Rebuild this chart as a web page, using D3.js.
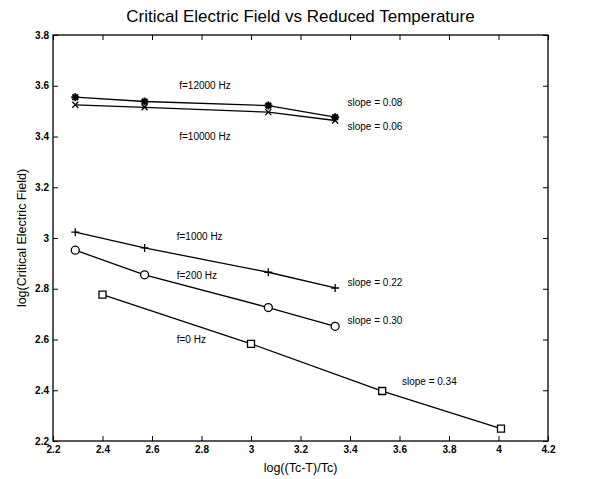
<!DOCTYPE html>
<html>
<head>
<meta charset="utf-8">
<script src="https://cdn.jsdelivr.net/npm/d3@7"></script>
<style>
  body { margin: 0; background: #fff; }
  svg { display: block; font-family: "Liberation Sans", Arial, sans-serif; }
  .tick text { font-size: 10px; font-weight: bold; fill: #000; }
  .note { font-size: 10px; fill: #000; }
</style>
</head>
<body>
<svg id="chart" width="592" height="479"></svg>
<script>
// values
const xFreq = [2.29, 2.57, 3.07, 3.34];      // shared x for f = 12000 / 10000 / 1000 / 200 Hz
const xZero = [2.40, 3.00, 3.53, 4.01];      // x for f = 0 Hz
const y12000 = [3.555, 3.538, 3.522, 3.476];
const y10000 = [3.525, 3.515, 3.496, 3.463];
const y1000 = [3.023, 2.961, 2.865, 2.803];
const y200 = [2.952, 2.855, 2.726, 2.652];
const y0 = [2.777, 2.583, 2.397, 2.249];

const xTicks = [2.2, 2.4, 2.6, 2.8, 3, 3.2, 3.4, 3.6, 3.8, 4, 4.2];
const yTicks = [2.2, 2.4, 2.6, 2.8, 3, 3.2, 3.4, 3.6, 3.8];

const series = [
  { name: 'f=12000 Hz', x: xFreq, y: y12000, marker: 'star' },
  { name: 'f=10000 Hz', x: xFreq, y: y10000, marker: 'x' },
  { name: 'f=1000 Hz',  x: xFreq, y: y1000,  marker: 'plus' },
  { name: 'f=200 Hz',   x: xFreq, y: y200,   marker: 'circle' },
  { name: 'f=0 Hz',     x: xZero, y: y0,     marker: 'square' }
];

// text annotations, anchored in data units
const notes = [
  { text: 'f=12000 Hz',   x: 2.71, y: 3.600 },
  { text: 'f=10000 Hz',   x: 2.71, y: 3.400 },
  { text: 'f=1000 Hz',    x: 2.70, y: 3.004 },
  { text: 'f=200 Hz',     x: 2.70, y: 2.852 },
  { text: 'f=0 Hz',       x: 2.70, y: 2.600 },
  { text: 'slope = 0.08', x: 3.39, y: 3.535 },
  { text: 'slope = 0.06', x: 3.39, y: 3.440 },
  { text: 'slope = 0.22', x: 3.39, y: 2.826 },
  { text: 'slope = 0.30', x: 3.39, y: 2.674 },
  { text: 'slope = 0.34', x: 3.61, y: 2.435 }
];

const svg = d3.select('#chart');
const margin = { top: 35, right: 44, bottom: 38, left: 53 };
const width  = +svg.attr('width');
const height = +svg.attr('height');
const innerW = width - margin.left - margin.right;
const innerH = height - margin.top - margin.bottom;

const x = d3.scaleLinear().domain([2.2, 4.2]).range([0, innerW]);
const y = d3.scaleLinear().domain([2.2, 3.8]).range([innerH, 0]);

const g = svg.append('g')
  .attr('transform', `translate(${margin.left},${margin.top})`);

const fmt = d => String(+d.toFixed(1));

// axes with inward ticks on all four sides
g.append('g')
  .attr('transform', `translate(0,${innerH})`)
  .call(d3.axisBottom(x).tickValues(xTicks).tickFormat(fmt).tickSizeInner(-5).tickSizeOuter(0).tickPadding(5));
g.append('g')
  .call(d3.axisTop(x).tickValues(xTicks).tickFormat('').tickSizeInner(-5).tickSizeOuter(0));
g.append('g')
  .call(d3.axisLeft(y).tickValues(yTicks).tickFormat(fmt).tickSizeInner(-5).tickSizeOuter(0).tickPadding(4));
g.append('g')
  .attr('transform', `translate(${innerW},0)`)
  .call(d3.axisRight(y).tickValues(yTicks).tickFormat('').tickSizeInner(-5).tickSizeOuter(0));

g.selectAll('.domain').remove();
g.selectAll('.tick line').attr('stroke', '#000').attr('stroke-width', 1);

g.append('rect')
  .attr('width', innerW)
  .attr('height', innerH)
  .attr('fill', 'none')
  .attr('stroke', '#000')
  .attr('stroke-width', 1.3);

// lines
const line = d3.line().x(d => x(d[0])).y(d => y(d[1]));
g.selectAll('.series')
  .data(series)
  .join('path')
    .attr('class', 'series')
    .attr('d', s => line(s.x.map((v, i) => [v, s.y[i]])))
    .attr('fill', 'none')
    .attr('stroke', '#000')
    .attr('stroke-width', 1.3);

// markers
const markerPath = (type) => {
  const r = 4;
  switch (type) {
    case 'plus': return `M${-r},0H${r}M0,${-r}V${r}`;
    case 'x': return `M${-r*0.75},${-r*0.75}L${r*0.75},${r*0.75}M${-r*0.75},${r*0.75}L${r*0.75},${-r*0.75}`;
    case 'star': return `M${-r},0H${r}M0,${-r}V${r}M${-r*0.7},${-r*0.7}L${r*0.7},${r*0.7}M${-r*0.7},${r*0.7}L${r*0.7},${-r*0.7}`;
    case 'circle': return d3.symbol(d3.symbolCircle, 50)();
    case 'square': return `M-3.5,-3.5H3.5V3.5H-3.5Z`;
  }
};

series.forEach(s => {
  g.selectAll(null)
    .data(s.x.map((v, i) => [v, s.y[i]]))
    .join('path')
      .attr('transform', d => `translate(${x(d[0])},${y(d[1])})`)
      .attr('d', markerPath(s.marker))
      .attr('fill', (s.marker === 'circle' || s.marker === 'square') ? '#fff' : 'none')
      .attr('stroke', '#000')
      .attr('stroke-width', s.marker === 'star' ? 2 : 1.3);
});

// annotations
g.selectAll('.note')
  .data(notes)
  .join('text')
    .attr('class', 'note')
    .attr('x', d => x(d.x))
    .attr('y', d => y(d.y))
    .attr('dy', '0.35em')
    .text(d => d.text);

// title & axis labels
svg.append('text')
  .attr('x', margin.left + innerW / 2)
  .attr('y', 22)
  .attr('text-anchor', 'middle')
  .style('font-size', '17px')
  .text('Critical Electric Field vs Reduced Temperature');

svg.append('text')
  .attr('x', margin.left + innerW / 2)
  .attr('y', margin.top + innerH + 31)
  .attr('text-anchor', 'middle')
  .style('font-size', '12.5px')
  .text('log((Tc-T)/Tc)');

svg.append('text')
  .attr('transform', `translate(26,${margin.top + innerH / 2}) rotate(-90)`)
  .attr('text-anchor', 'middle')
  .style('font-size', '12.5px')
  .text('log(Critical Electric Field)');
</script>
</body>
</html>
